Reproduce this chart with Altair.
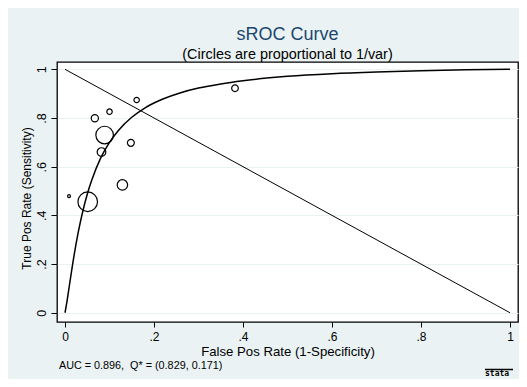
import altair as alt
import pandas as pd

# Study points (FPR, TPR) and relative inverse-variance weights
study_fpr = [0.009, 0.051, 0.067, 0.100, 0.161, 0.089, 0.082, 0.148, 0.129, 0.382]
study_tpr = [0.479, 0.456, 0.799, 0.826, 0.874, 0.730, 0.660, 0.698, 0.525, 0.922]
study_weight = [2.1, 100, 13.5, 7.6, 7.6, 80, 19.5, 12.5, 28.4, 11.5]

# sROC curve
curve_fpr = [0, 0.005, 0.01, 0.02, 0.03, 0.04, 0.05, 0.06, 0.08, 0.10, 0.12, 0.15,
             0.18, 0.22, 0.26, 0.30, 0.35, 0.40, 0.50, 0.60, 0.70, 0.80, 0.90, 1.0]
curve_tpr = [0, 0.053, 0.114, 0.232, 0.333, 0.417, 0.487, 0.544, 0.635, 0.700, 0.749, 0.803,
             0.842, 0.878, 0.904, 0.923, 0.940, 0.953, 0.971, 0.982, 0.989, 0.994, 0.998, 1.0]

# Anti-diagonal (Q* line)
diag_fpr = [0, 1]
diag_tpr = [1, 0]

x_ticks = [0, 0.2, 0.4, 0.6, 0.8, 1]
y_ticks = [0, 0.2, 0.4, 0.6, 0.8, 1]

note_text = "AUC = 0.896,\u00a0 Q* = (0.829, 0.171)"

FONT = "Liberation Sans"

studies = pd.DataFrame({"fpr": study_fpr, "tpr": study_tpr, "w": study_weight})
curve = pd.DataFrame({"fpr": curve_fpr, "tpr": curve_tpr})
diag = pd.DataFrame({"fpr": diag_fpr, "tpr": diag_tpr})

label_expr = "datum.value == 0 ? '0' : (datum.value == 1 ? '1' : replace(format(datum.value, '.1f'), '0.', '.'))"

xscale = alt.Scale(domain=[-0.018, 1.018], nice=False, zero=False)
yscale = alt.Scale(domain=[-0.038, 1.030], nice=False, zero=False)

xaxis = alt.Axis(
    values=x_ticks, labelExpr=label_expr, title="False Pos Rate (1-Specificity)",
    grid=False, domain=False, tickSize=5, tickColor="#000", labelPadding=4,
    labelFontSize=12, titleFontSize=13.2, labelColor="#000", titleColor="#000",
    titleFontWeight="normal", titleY=23, titleBaseline="top",
)
yaxis = alt.Axis(
    values=y_ticks, labelExpr=label_expr, title="True Pos Rate (Sensitivity)",
    grid=True, gridColor="#eaf2f3", gridWidth=1, domain=False, tickSize=6,
    tickColor="#000", labelAngle=270, labelAlign="center", labelBaseline="alphabetic",
    labelPadding=5.5, labelFontSize=12.5, titleFontSize=12, labelColor="#000",
    titleColor="#000", titleFontWeight="normal", titleAngle=270, titleX=-24, titleY=136,
    titleAlign="center", titleBaseline="bottom",
)

line_curve = alt.Chart(curve).mark_line(color="#000", strokeWidth=1.5, interpolate="monotone").encode(
    x=alt.X("fpr:Q", scale=xscale, axis=xaxis),
    y=alt.Y("tpr:Q", scale=yscale, axis=yaxis),
    order="fpr:Q",
)

line_diag = alt.Chart(diag).mark_line(color="#000", strokeWidth=1).encode(
    x=alt.X("fpr:Q", scale=xscale),
    y=alt.Y("tpr:Q", scale=yscale),
)

points = alt.Chart(studies).mark_point(shape="circle", filled=False, color="#000",
                                       strokeWidth=1.2, opacity=1).encode(
    x=alt.X("fpr:Q", scale=xscale),
    y=alt.Y("tpr:Q", scale=yscale),
    size=alt.Size("w:Q", scale=alt.Scale(domain=[0, 100], range=[0, 384]), legend=None),
)

note = alt.Chart(pd.DataFrame({"t": [note_text]})).mark_text(
    align="left", baseline="alphabetic", font=FONT, fontSize=10.8, color="#000"
).encode(x=alt.value(2), y=alt.value(307), text="t:N")

logo_text = alt.Chart(pd.DataFrame({"t": ["stata"]})).mark_text(
    align="left", baseline="alphabetic", font="DejaVu Sans Mono", fontSize=8,
    fontWeight="bold", color="#000"
).encode(x=alt.value(428), y=alt.value(314), text="t:N")

logo_bar = alt.Chart(pd.DataFrame({"a": [0]})).mark_rule(color="#000", strokeWidth=1.5).encode(
    x=alt.value(428), x2=alt.value(456), y=alt.value(307.5)
)

chart = alt.layer(line_diag, points, line_curve, note, logo_bar, logo_text).properties(
    width=461, height=260,
    autosize=alt.AutoSizeParams(type="none"),
    padding={"left": 49, "top": 54, "right": 1, "bottom": 57},
    background="#eaf2f3",
    title=alt.TitleParams(
        text="sROC Curve", subtitle="(Circles are proportional to 1/var)",
        font=FONT, subtitleFont=FONT, fontSize=18, subtitleFontSize=14.4,
        fontWeight="normal", color="#1a476f", subtitleColor="#000",
        anchor="middle", offset=1, subtitlePadding=4,
    ),
).configure(
    font=FONT,
).configure_view(
    fill="white", stroke="#000", strokeWidth=1.3,
).configure_axis(
    labelFont=FONT, titleFont=FONT,
)

chart.save("out.html", embed_options={"renderer": "svg", "actions": False})
